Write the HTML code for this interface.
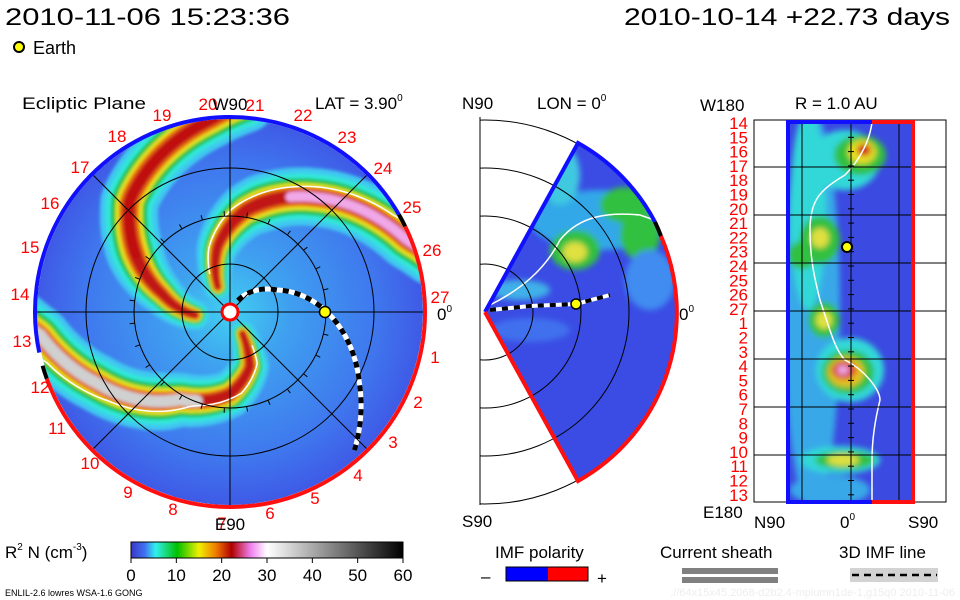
<!DOCTYPE html>
<html><head><meta charset="utf-8"><style>
html,body{margin:0;padding:0;background:#fff;}
svg{display:block;font-family:"Liberation Sans",sans-serif;}
</style></head><body>
<svg id="s" width="960" height="600" viewBox="0 0 960 600">
<defs>
<filter id="bl" x="-20%" y="-20%" width="140%" height="140%"><feGaussianBlur stdDeviation="1.5"/></filter>
<filter id="bl2" x="-50%" y="-50%" width="200%" height="200%"><feGaussianBlur stdDeviation="3"/></filter>
<clipPath id="diskclip"><circle cx="230" cy="312" r="193"/></clipPath>
<clipPath id="wedgeclip"><path d="M485,312 L578,143 A193,193 0 0,1 578,481 Z"/></clipPath>
<clipPath id="rectclip"><rect x="786" y="122" width="128" height="380"/></clipPath>
<clipPath id="midbox"><rect x="480" y="117" width="196" height="388"/></clipPath>
<radialGradient id="diskbg" cx="0.5" cy="0.5" r="0.5">
<stop offset="0" stop-color="#40d0f0"/><stop offset="0.3" stop-color="#3fa0f0"/><stop offset="0.75" stop-color="#3f78ee"/><stop offset="1" stop-color="#3f5ae6"/></radialGradient>
<linearGradient id="cbar" x1="0" x2="1" y1="0" y2="0">
<stop offset="0" stop-color="#3838c8"/><stop offset="0.05" stop-color="#4070f0"/><stop offset="0.09" stop-color="#30f0f0"/><stop offset="0.17" stop-color="#00c000"/><stop offset="0.25" stop-color="#f0f000"/><stop offset="0.31" stop-color="#f08000"/><stop offset="0.37" stop-color="#b00000"/><stop offset="0.44" stop-color="#f080f0"/><stop offset="0.5" stop-color="#ffffff"/><stop offset="1" stop-color="#000000"/></linearGradient>
</defs>

<text x="5" y="25" font-size="24" textLength="285" lengthAdjust="spacingAndGlyphs">2010-11-06 15:23:36</text>
<text x="624" y="25" font-size="24" textLength="326" lengthAdjust="spacingAndGlyphs">2010-10-14 +22.73 days</text>
<circle cx="19" cy="47" r="5" fill="#ffff00" stroke="#000" stroke-width="2"/>
<text x="33" y="54" font-size="18">Earth</text>

<g>
<text x="22" y="109" font-size="17" textLength="124" lengthAdjust="spacingAndGlyphs">Ecliptic Plane</text>
<text x="315" y="109" font-size="17">LAT = 3.90<tspan font-size="10" dy="-8">0</tspan></text>
<g clip-path="url(#diskclip)">
<circle cx="230" cy="312" r="193" fill="url(#diskbg)"/>
<g id="arms" filter="url(#bl)"></g>
<g id="armlines"></g>
</g>
<g id="diskgrid" stroke="#000" stroke-width="1" fill="none"></g>
<g id="diskborder"></g>
<g id="disklabels" fill="#ff0000" font-size="17" text-anchor="middle"></g>
<text x="230" y="110" font-size="17" text-anchor="middle">W90</text>
<text x="230" y="530" font-size="17" text-anchor="middle">E90</text>
<text x="437" y="320" font-size="17">0<tspan font-size="10" dy="-8">0</tspan></text>
</g>

<g>
<text x="462" y="109" font-size="17">N90</text>
<text x="537" y="109" font-size="17">LON = 0<tspan font-size="10" dy="-8">0</tspan></text>
<text x="462" y="527" font-size="17">S90</text>
<text x="679" y="320" font-size="17">0<tspan font-size="10" dy="-8">0</tspan></text>
<g clip-path="url(#wedgeclip)">
<rect x="480" y="117" width="200" height="390" fill="#3a4ce4"/>
<g id="wedgeblobs" filter="url(#bl2)"></g>
<path d="M490,305 C520,290 545,270 560,240 C580,215 610,212 640,215 L660,222" stroke="#fff" stroke-width="1.5" fill="none"/>
</g>
<g clip-path="url(#midbox)" stroke="#000" fill="none" stroke-width="1">
<circle cx="485" cy="312" r="48"/><circle cx="485" cy="312" r="96"/><circle cx="485" cy="312" r="144"/><circle cx="485" cy="312" r="192"/>
</g>
<line x1="480" y1="117" x2="480" y2="505" stroke="#000"/>
<path d="M485,312 L578,143 A193,193 0 0,1 655,222" stroke="#1010ff" stroke-width="4" fill="none"/>
<path d="M655,222 A193,193 0 0,1 661,236" stroke="#000" stroke-width="4" fill="none"/>
<path d="M661,236 A193,193 0 0,1 578,481 L485,312" stroke="#ff1010" stroke-width="4" fill="none"/>
<path d="M490,310 L530,306 L576,304 L610,295" stroke="#fff" stroke-width="4" fill="none"/>
<path d="M490,310 L530,306 L576,304 L610,295" stroke="#000" stroke-width="4" stroke-dasharray="6,6" fill="none"/>
<circle cx="576" cy="304" r="5" fill="#ffff00" stroke="#000" stroke-width="1.5"/>
</g>

<g>
<text x="700" y="111" font-size="17">W180</text>
<text x="795" y="109" font-size="17">R = 1.0 AU</text>
<text x="703" y="518" font-size="17">E180</text>
<text x="754" y="528" font-size="17">N90</text>
<text x="840" y="528" font-size="17">0<tspan font-size="10" dy="-8">0</tspan></text>
<text x="908" y="528" font-size="17">S90</text>
<rect x="754" y="120" width="192" height="382" fill="#fff" stroke="#000"/>
<g clip-path="url(#rectclip)">
<rect x="786" y="122" width="128" height="380" fill="#3b4ae0"/>
<g id="rectblobs" filter="url(#bl2)"></g>
<path d="M872,122 C870,140 860,160 845,175 C820,190 810,200 810,230 C810,260 815,280 820,300 C830,330 835,350 845,360 C865,370 880,390 880,400 C875,420 872,440 872,460 L872,502" stroke="#fff" stroke-width="1.5" fill="none"/>
</g>
<g id="rectgrid" stroke="#000" stroke-width="1"></g>
<path d="M872,122 L788,122 L788,502 L872,502" stroke="#1010ff" stroke-width="4" fill="none"/>
<path d="M872,122 L913,122 L913,502 L872,502" stroke="#ff1010" stroke-width="4" fill="none"/>
<circle cx="847" cy="247" r="5" fill="#ffff00" stroke="#000" stroke-width="2"/>
<g id="rectlabels" fill="#ff0000" font-size="17" text-anchor="end"></g>
</g>

<g>
<text x="5" y="558" font-size="17">R<tspan font-size="10" dy="-8">2</tspan><tspan dy="8"> N (cm</tspan><tspan font-size="10" dy="-8">-3</tspan><tspan dy="8">)</tspan></text>
<rect x="131" y="542" width="272" height="16" fill="url(#cbar)" stroke="#000"/>
<g id="cbticks" font-size="17" text-anchor="middle"></g>
</g>
<g>
<text x="495" y="558" font-size="17">IMF polarity</text>
<text x="481" y="582" font-size="17">–</text>
<rect x="506" y="567" width="42" height="14" fill="#0000ff"/><rect x="548" y="567" width="40" height="14" fill="#ff0000"/>
<rect x="506" y="567" width="82" height="14" fill="none" stroke="#000"/>
<text x="597" y="584" font-size="17">+</text>
</g>
<g>
<text x="660" y="558" font-size="17">Current sheath</text>
<rect x="682" y="568" width="96" height="6" fill="#808080"/><rect x="682" y="577" width="96" height="6" fill="#808080"/>
</g>
<g>
<text x="839" y="558" font-size="17">3D IMF line</text>
<rect x="850" y="568" width="88" height="14" fill="#d3d3d3"/>
<line x1="852" y1="575" x2="937" y2="575" stroke="#000" stroke-width="2.5" stroke-dasharray="7,5"/>
</g>
<text x="5" y="596" font-size="9">ENLIL-2.6 lowres WSA-1.6 GONG</text>
<text x="955" y="596" font-size="11" fill="#eeeeee" text-anchor="end">.//64x15x45.2068-d2b2.4-mpiumn1de-1,g15q0   2010-11-06</text>
</svg>
<script>
const NS='http://www.w3.org/2000/svg';
function mk(tag,attrs,parent){const e=document.createElementNS(NS,tag);for(const k in attrs)e.setAttribute(k,attrs[k]);parent.appendChild(e);return e;}
const CX=230,CY=312,R=193;
const armA_r=[35,70,100,150,193,210];
const armA_t=[175,195,207,228,264,275];
const armB_r=[28,66,103,142,191,210];
const armB_t=[244,259,279,306,338,345];
const armC_r=[25,58,82,101,151,191,210];
const armC_t=[60,70,90,120,152,173,178];
const imf_r=[14,52,97,148,186];
const imf_t=[-56,-25,0,29,48];
const arms=[{r:armA_r,t:armA_t,peak:'#c01010',peakStart:110,peakW:8,wl:false},
{r:armB_r,t:armB_t,peak:'#f0a8e8',peakStart:130,peakW:10,wl:true},
{r:armC_r,t:armC_t,peak:'#d0d0d0',peakStart:95,peakW:12,wl:true}];
const layers=[[58,'#40c8f0'],[46,'#30e8d8'],[36,'#20c040'],[27,'#e8e820'],[20,'#e87010'],[13,'#c01818']];
function interp(rs,ts,r){for(let i=0;i<rs.length-1;i++){if(r<=rs[i+1]){const f=(r-rs[i])/(rs[i+1]-rs[i]);return ts[i]+f*(ts[i+1]-ts[i]);}}return ts[ts.length-1];}
function pt(r,t){const a=t*Math.PI/180;return [CX+r*Math.cos(a),CY+r*Math.sin(a)];}
const armsG=document.getElementById('arms');
arms.forEach((arm)=>{
  const r0=arm.r[0],r1=arm.r[arm.r.length-1];
  layers.forEach((L)=>{
    let pts=[];
    for(let r=r0;r<=r1;r+=3){pts.push(pt(r,interp(arm.r,arm.t,r)));}
    for(let i=0;i<pts.length-1;i++){
      const r=r0+i*3;const sc=Math.min(1,0.3+r/160);
      mk('line',{x1:pts[i][0],y1:pts[i][1],x2:pts[i+1][0],y2:pts[i+1][1],stroke:L[1],'stroke-width':L[0]*sc,'stroke-linecap':'round'},armsG);
    }
  });
  let pts=[];
  for(let r=arm.peakStart;r<=r1;r+=3)pts.push(pt(r,interp(arm.r,arm.t,r)));
  const pl=mk('polyline',{points:pts.map(p=>p.join(',')).join(' '),stroke:arm.peak,'stroke-width':arm.peakW,fill:'none','stroke-linecap':'round'},armsG);
  
  
  if(arm.wl){
    let w=[];for(let r=r0+15;r<=r1;r+=3)w.push(pt(r,interp(arm.r,arm.t,r)-8));
    const wl=mk('polyline',{points:w.map(p=>p.join(',')).join(' '),stroke:'#fff','stroke-width':1.5,fill:'none'},document.getElementById('armlines'));
    
    
  }
});
const gg=document.getElementById('diskgrid');
[48,96,144].forEach(r=>mk('circle',{cx:CX,cy:CY,r:r},gg));
[0,45,90,135].forEach(d=>{const a=pt(R,d),b=pt(R,d+180);mk('line',{x1:a[0],y1:a[1],x2:b[0],y2:b[1]},gg);});
for(let i=0;i<27;i++){const t=i*360/27;const a=pt(96,t),b=pt(101,t);mk('line',{x1:a[0],y1:a[1],x2:b[0],y2:b[1]},gg);}
const ig=document.getElementById('armlines');
let ip=[];for(let r=imf_r[0];r<=imf_r[imf_r.length-1];r+=2)ip.push(pt(r,interp(imf_r,imf_t,r)));
const ips=ip.map(p=>p.join(',')).join(' ');
mk('polyline',{points:ips,stroke:'#fff','stroke-width':5,fill:'none'},ig);
const ipl=mk('polyline',{points:ips,stroke:'#000','stroke-width':5,fill:'none','stroke-dasharray':'6,6'},ig);


const bg=document.getElementById('diskborder');
function arc(t0,t1,col){const a=pt(R+2,t0),b=pt(R+2,t1);const large=(t1-t0)>180?1:0;mk('path',{d:`M${a[0]},${a[1]} A${R+2},${R+2} 0 ${large},1 ${b[0]},${b[1]}`,stroke:col,'stroke-width':4,fill:'none'},bg);}
arc(168,330,'#1010ff');arc(330,334,'#000');arc(334,520,'#ff1010');arc(160,164,'#000');
mk('circle',{cx:CX,cy:CY,r:8,fill:'#fff',stroke:'#ff0000','stroke-width':3},bg);
const em=mk('circle',{cx:325,cy:312,r:5.5,fill:'#ffff00',stroke:'#000','stroke-width':1.5},bg);


const dayLabels=['19','18','17','16','15','14','13','12','11','10','9','8','7','6','5','4','3','2','1','27','26','25','24','23','22','21','20'];
const dayX=[162,117,80,50,30,20,22,40,57,90,128,173,222,270,315,358,393,418,435,440,432,412,383,347,303,255,208];
const dayY=[115,136,167,203,247,294,341,387,428,463,492,509,523,513,498,475,442,402,357,297,250,207,168,137,115,105,104];
const dl=document.getElementById('disklabels');
dayLabels.forEach((s,i)=>{const t=mk('text',{x:dayX[i],y:dayY[i]+6},dl);t.textContent=s;

});
const wedgeBlobs=[[600,220,70,30,'#30a8e8'],[575,250,25,20,'#30c040'],[575,252,12,10,'#e0e040'],[625,205,25,18,'#30c040'],[640,235,20,25,'#30c040'],[560,175,20,30,'#40c8e0'],[520,290,30,10,'#40b0e8'],[650,280,25,30,'#3f8cf0'],[530,330,40,12,'#3f70ee']];
const wb=document.getElementById('wedgeblobs');
wedgeBlobs.forEach(b=>mk('ellipse',{cx:b[0],cy:b[1],rx:b[2],ry:b[3],fill:b[4]},wb));
const rectBlobs=[[812,310,28,200,'#38a8e8'],[808,210,18,100,'#30d8d8'],[845,160,35,30,'#30d8d8'],[860,155,26,20,'#30c040'],[862,152,14,12,'#e8e020'],[864,150,7,6,'#d02020'],[820,240,20,24,'#30c040'],[820,238,9,10,'#e0e040'],[802,255,14,14,'#30c040'],[824,320,16,18,'#30c040'],[824,320,8,9,'#e0e040'],[850,370,34,32,'#30d8d8'],[848,372,26,22,'#30c040'],[846,372,18,15,'#e8c020'],[844,370,12,9,'#d02020'],[843,370,6,5,'#f0a8e8'],[840,460,40,14,'#30d8d8'],[845,460,30,9,'#30c040'],[843,460,16,6,'#e0e040'],[830,490,40,15,'#38a8e8']];
const rb=document.getElementById('rectblobs');
rectBlobs.forEach(b=>mk('ellipse',{cx:b[0],cy:b[1],rx:b[2],ry:b[3],fill:b[4]},rb));
const rg=document.getElementById('rectgrid');
const hLines=[167,215,263,311,359,407,455];
hLines.forEach(y=>mk('line',{x1:754,y1:y,x2:946,y2:y},rg));
[802,851,899].forEach(x=>mk('line',{x1:x,y1:120,x2:x,y2:502},rg));
for(let i=0;i<27;i++){const y=123+i*14.3;mk('line',{x1:848,y1:y,x2:854,y2:y},rg);}
const rl=document.getElementById('rectlabels');
const rectLabels=['14','15','16','17','18','19','20','21','22','23','24','25','26','27','1','2','3','4','5','6','7','8','9','10','11','12','13'];
rectLabels.forEach((s,i)=>{const t=mk('text',{x:748,y:123+i*14.3+6},rl);t.textContent=s;

});
const cbTicks=[0,10,20,30,40,50,60];
const cb=document.getElementById('cbticks');
cbTicks.forEach(v=>{const x=131+v/60*272;mk('line',{x1:x,y1:558,x2:x,y2:563,stroke:'#000'},cb);
const t=mk('text',{x:x,y:581},cb);t.textContent=v;

});
</script>
</body></html>
